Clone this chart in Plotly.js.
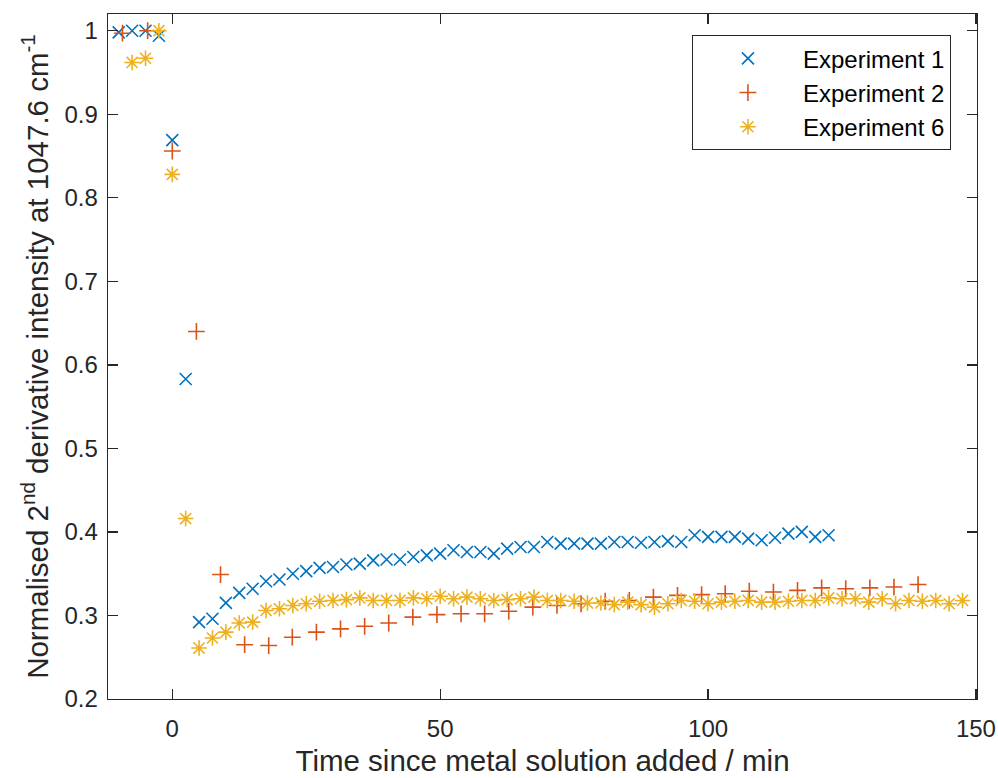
<!DOCTYPE html>
<html>
<head>
<meta charset="utf-8">
<script src="https://cdn.plot.ly/plotly-3.0.1.min.js"></script>
<style>html,body{margin:0;padding:0;background:#fff;}#chart{width:998px;height:778px;}</style>
</head>
<body>
<div id="chart"></div>
<script>
const exp1Time = [-10,-7.5,-5,-2.5,0,2.5,5,7.5,10,12.5,15,17.5,20,22.5,25,27.5,30,32.5,35,37.5,40,42.5,45,47.5,50,52.5,55,57.5,60,62.5,65,67.5,70,72.5,75,77.5,80,82.5,85,87.5,90,92.5,95,97.5,100,102.5,105,107.5,110,112.5,115,117.5,120,122.5];
const exp1Value = [0.998,1.0,1.0,0.994,0.869,0.583,0.292,0.296,0.315,0.327,0.332,0.341,0.343,0.350,0.353,0.357,0.358,0.361,0.362,0.366,0.367,0.367,0.370,0.372,0.374,0.378,0.376,0.376,0.374,0.380,0.382,0.382,0.388,0.386,0.386,0.386,0.386,0.388,0.388,0.387,0.388,0.389,0.388,0.396,0.394,0.394,0.394,0.392,0.390,0.393,0.398,0.400,0.394,0.396];

const exp2Time = [-9.3,-4.6,0,4.5,9,13.5,18,22.4,26.9,31.4,35.9,40.4,44.9,49.4,53.9,58.3,62.8,67.3,71.8,76.3,80.8,85.3,89.8,94.3,98.8,103.2,107.7,112.2,116.7,121.2,125.7,130.2,134.7,139.2];
const exp2Value = [0.997,1.0,0.856,0.640,0.349,0.265,0.264,0.274,0.280,0.284,0.287,0.291,0.298,0.301,0.302,0.302,0.305,0.310,0.312,0.314,0.317,0.318,0.322,0.324,0.325,0.326,0.329,0.328,0.330,0.333,0.332,0.333,0.334,0.337];

const exp6Time = [-7.5,-5,-2.5,0,2.5,5,7.5,10,12.5,15,17.5,20,22.5,25,27.5,30,32.5,35,37.5,40,42.5,45,47.5,50,52.5,55,57.5,60,62.5,65,67.5,70,72.5,75,77.5,80,82.5,85,87.5,90,92.5,95,97.5,100,102.5,105,107.5,110,112.5,115,117.5,120,122.5,125,127.5,130,132.5,135,137.5,140,142.5,145,147.5];
const exp6Value = [0.962,0.967,1.0,0.828,0.416,0.261,0.273,0.280,0.291,0.292,0.306,0.308,0.312,0.314,0.317,0.318,0.319,0.321,0.318,0.318,0.318,0.321,0.320,0.323,0.320,0.322,0.320,0.318,0.319,0.320,0.322,0.318,0.318,0.317,0.315,0.315,0.313,0.316,0.313,0.310,0.314,0.318,0.317,0.314,0.316,0.317,0.318,0.316,0.316,0.317,0.318,0.318,0.321,0.320,0.320,0.316,0.320,0.314,0.318,0.317,0.318,0.314,0.318];

const seriesNames = ['Experiment 1','Experiment 2','Experiment 6'];
const xTicks = [0,50,100,150];
const yTicks = [0.2,0.3,0.4,0.5,0.6,0.7,0.8,0.9,1];

const colors = ['#0072BD','#D95319','#EDB120'];
const symbols = ['x-thin-open','cross-thin-open','asterisk-open'];
const xs = [exp1Time, exp2Time, exp6Time];
const ys = [exp1Value, exp2Value, exp6Value];

const traces = seriesNames.map((n,i)=>({
  x: xs[i], y: ys[i], name: n, type:'scatter', mode:'markers',
  marker:{symbol:symbols[i], size: i===2?13:12, color:colors[i], line:{color:colors[i], width:1.6}}
}));

const font = 'Liberation Sans, Arial, sans-serif';
const layout = {
  width:998, height:778,
  margin:{l:108, r:21, t:14, b:79},
  paper_bgcolor:'#fff', plot_bgcolor:'#fff',
  font:{family:font, color:'#262626', size:24},
  showlegend:true,
  legend:{x:0.970, y:0.969, xanchor:'right', yanchor:'top', bgcolor:'#fff', bordercolor:'#262626', borderwidth:1,
    font:{family:font, size:24, color:'#000'}, itemwidth:100, tracegroupgap:0},
  xaxis:{range:[-12,150.2], tickvals:xTicks, ticktext:xTicks.map(String), ticks:'inside', ticklen:10, tickwidth:1.3, tickcolor:'#262626',
    showline:true, mirror:'ticks', linecolor:'#262626', linewidth:1.3, showgrid:false, zeroline:false,
    ticklabelstandoff:8,
    tickfont:{family:font, size:24, color:'#262626'},
    title:{text:'Time since metal solution added / min', font:{family:font, size:29.5, color:'#262626'}, standoff:9}},
  yaxis:{range:[0.2,1.02], tickvals:yTicks, ticktext:yTicks.map(v=>String(v)), ticks:'inside', ticklen:10, tickwidth:1.3, tickcolor:'#262626',
    showline:true, mirror:'ticks', linecolor:'#262626', linewidth:1.3, showgrid:false, zeroline:false,
    ticklabelstandoff:4,
    tickfont:{family:font, size:24, color:'#262626'},
    title:{text:'Normalised 2<sup>nd</sup> derivative intensity at 1047.6 cm<sup>-1</sup>', font:{family:font, size:29.5, color:'#262626'}, standoff:7}}
};
Plotly.newPlot('chart', traces, layout, {displayModeBar:false, staticPlot:true});
</script>
</body>
</html>
